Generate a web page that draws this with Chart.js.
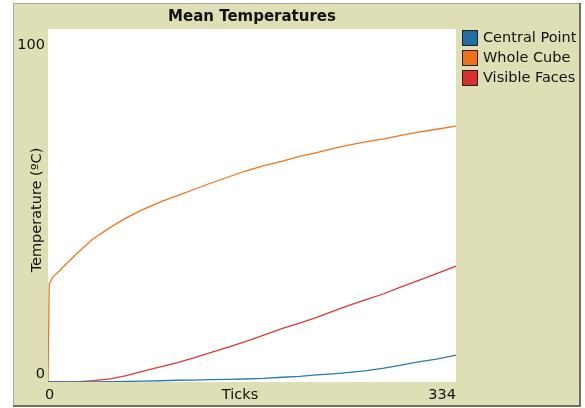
<!DOCTYPE html>
<html>
<head>
<meta charset="utf-8">
<script src="https://cdn.jsdelivr.net/npm/chart.js@4"></script>
<style>
  body { margin: 0; background: #fff; }
  canvas { display: block; }
</style>
</head>
<body>
<canvas id="tempChart" width="585" height="408"></canvas>
<script>
// values
const ticks = [0, 1, 4, 8, 15, 23, 37, 51, 64, 78, 92, 106, 120, 133, 147, 161, 176, 192, 206, 220, 233, 247, 261, 275, 288, 302, 318, 334];
const centralPoint = [0, 0, 0, 0, 0, 0, 0.05, 0.1, 0.15, 0.25, 0.35, 0.5, 0.55, 0.65, 0.75, 0.85, 1.0, 1.35, 1.6, 2.0, 2.3, 2.7, 3.2, 3.9, 4.7, 5.6, 6.5, 7.6];
const wholeCube = [0, 27.8, 29.8, 31.0, 33.5, 36.2, 40.6, 43.8, 46.5, 48.9, 51.0, 52.8, 54.6, 56.3, 58.0, 59.7, 61.2, 62.6, 63.9, 65.0, 66.1, 67.2, 68.1, 68.9, 69.8, 70.7, 71.6, 72.5];
const visibleFaces = [0, 0, 0, 0, 0, 0, 0.4, 0.9, 1.8, 3.1, 4.3, 5.5, 6.9, 8.3, 9.8, 11.4, 13.2, 15.2, 16.7, 18.3, 20.0, 21.8, 23.4, 25.0, 26.8, 28.6, 30.7, 32.8];

const seriesNames = ['Central Point', 'Whole Cube', 'Visible Faces'];
const seriesColors = ['#2b7bb0', '#f2731f', '#d93a36'];
const swatchColors = ['#1f6fa0', '#f07020', '#d83030'];

const xMin = 0, xMax = 334;
const yMin = 0, yMax = 100;
const xTitle = 'Ticks';
const yTitle = 'Temperature (ºC)';
const chartTitle = 'Mean Temperatures';

const FONT = '"DejaVu Sans", sans-serif';
const BEIGE = '#dfdfb6';

function points(vals) {
    return ticks.map((t, i) => ({ x: t, y: vals[i] }));
}

const panelPlugin = {
    id: 'panel',
    beforeDraw(chart) {
        const ctx = chart.ctx;
        const a = chart.chartArea;
        ctx.save();
        ctx.fillStyle = '#fff';
        ctx.fillRect(0, 0, chart.width, chart.height);
        ctx.fillStyle = BEIGE;
        ctx.fillRect(14, 4, 565, 401);
        // border
        ctx.fillStyle = '#a9a9a9';
        ctx.fillRect(13, 3, 567, 1);
        ctx.fillRect(13, 3, 1, 403);
        ctx.fillStyle = '#6f7064';
        ctx.fillRect(579, 3, 2, 404);
        ctx.fillRect(13, 405, 568, 2);
        ctx.fillStyle = '#fff';
        ctx.fillRect(a.left, a.top, a.right - a.left, a.bottom - a.top);
        ctx.restore();
    },
    afterDraw(chart) {
        const ctx = chart.ctx;
        const a = chart.chartArea;
        const xs = chart.scales.x, ys = chart.scales.y;
        ctx.save();
        ctx.fillStyle = '#111';

        ctx.font = 'bold 15px ' + FONT;
        ctx.textAlign = 'center';
        ctx.textBaseline = 'middle';
        ctx.fillText(chartTitle, (a.left + a.right) / 2, 17);

        ctx.font = '14.5px ' + FONT;
        // y tick labels
        ctx.textAlign = 'right';
        ctx.fillText(String(yMax), a.left - 3, ys.getPixelForValue(yMax) + 16);
        ctx.fillText(String(yMin), a.left - 3, ys.getPixelForValue(yMin) - 8);
        // x tick labels
        ctx.textAlign = 'left';
        ctx.fillText(String(xMin), xs.getPixelForValue(xMin) - 3, a.bottom + 13);
        ctx.textAlign = 'right';
        ctx.fillText(String(xMax), xs.getPixelForValue(xMax), a.bottom + 13);
        ctx.textAlign = 'center';
        ctx.fillText(xTitle, 240, a.bottom + 13);

        ctx.save();
        ctx.translate(37, 210);
        ctx.rotate(-Math.PI / 2);
        ctx.fillText(yTitle, 0, 0);
        ctx.restore();

        // legend
        ctx.textAlign = 'left';
        seriesNames.forEach((name, i) => {
            const y = 30 + i * 20;
            ctx.fillStyle = '#222';
            ctx.fillRect(462, y, 16, 16);
            ctx.fillStyle = swatchColors[i];
            ctx.fillRect(463, y + 1, 14, 14);
            ctx.fillStyle = '#111';
            ctx.fillText(name, 483, y + 8);
        });
        ctx.restore();
    }
};

new Chart(document.getElementById('tempChart'), {
    type: 'line',
    data: {
        datasets: seriesNames.map((name, i) => ({
            label: name,
            data: points([centralPoint, wholeCube, visibleFaces][i]),
            borderColor: seriesColors[i],
            borderWidth: 1.3,
            pointRadius: 0,
            fill: false,
            tension: 0
        }))
    },
    options: {
        responsive: false,
        animation: false,
        layout: { padding: { left: 48, right: 129, top: 29, bottom: 26 } },
        plugins: {
            legend: { display: false },
            title: { display: false },
            tooltip: { enabled: false }
        },
        scales: {
            x: { type: 'linear', min: xMin, max: xMax, display: false },
            y: { type: 'linear', min: yMin, max: yMax, display: false }
        }
    },
    plugins: [panelPlugin]
});
</script>
</body>
</html>
